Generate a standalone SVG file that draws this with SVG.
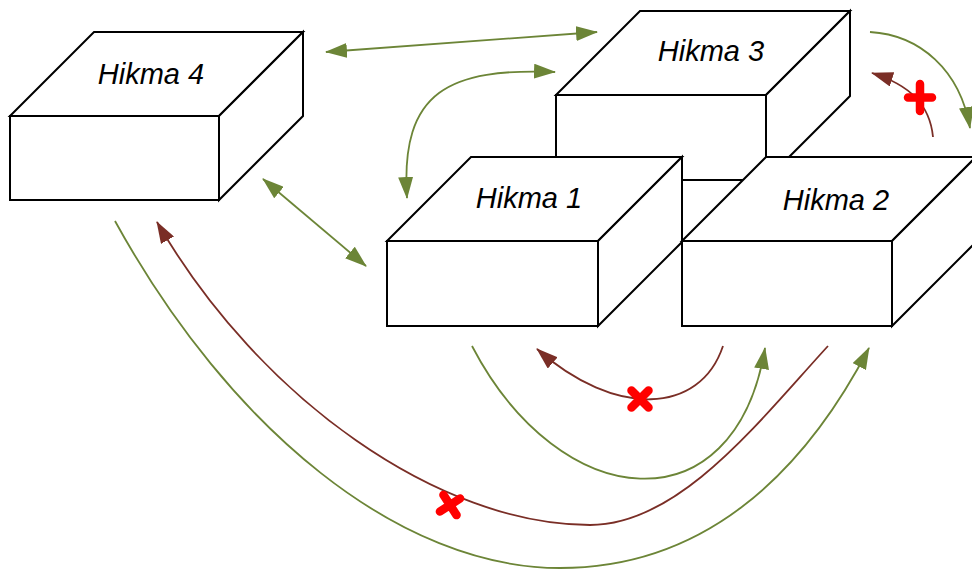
<svg xmlns="http://www.w3.org/2000/svg" width="972" height="570" viewBox="0 0 972 570">
  <style>
    .face { fill: #ffffff; stroke: #000000; stroke-width: 2; stroke-linejoin: miter; }
    .label { font-family: "Liberation Sans", Arial, sans-serif; font-style: italic; font-size: 29px; fill: #000000; text-anchor: middle; }
    .ok { fill: none; stroke: #6C8537; stroke-width: 1.8; }
    .no { fill: none; stroke: #7A2E26; stroke-width: 1.8; }
    .mark { fill: none; stroke: #FF0000; stroke-width: 8.5; stroke-linecap: round; }
  </style>
  <defs>
    <marker id="headOk" markerUnits="userSpaceOnUse" markerWidth="22" markerHeight="15" viewBox="0 0 22 15" refX="21" refY="7.5" orient="auto-start-reverse">
      <path d="M0,0 L22,7.5 L0,15 z" fill="#6C8537"/>
    </marker>
    <marker id="headNo" markerUnits="userSpaceOnUse" markerWidth="22" markerHeight="15" viewBox="0 0 22 15" refX="21" refY="7.5" orient="auto-start-reverse">
      <path d="M0,0 L22,7.5 L0,15 z" fill="#7A2E26"/>
    </marker>
  </defs>

  <!-- boxes: top face, front face, right face -->
  <g id="hikma4">
    <polygon class="face" points="10,116 94,32 303,32 219,116"/>
    <rect class="face" x="10" y="116" width="209" height="84"/>
    <polygon class="face" points="219,116 303,32 303,116 219,200"/>
    <text class="label" x="151" y="84">Hikma 4</text>
  </g>

  <g id="hikma3">
    <polygon class="face" points="556,95 640,11 850,11 766,95"/>
    <rect class="face" x="556" y="95" width="210" height="85"/>
    <polygon class="face" points="766,95 850,11 850,96 766,180"/>
    <text class="label" x="711" y="61">Hikma 3</text>
  </g>

  <g id="hikma1">
    <polygon class="face" points="387,241 471,157 682,157 598,241"/>
    <rect class="face" x="387" y="241" width="211" height="85"/>
    <polygon class="face" points="598,241 682,157 682,242 598,326"/>
    <text class="label" x="529" y="208">Hikma 1</text>
  </g>

  <g id="hikma2">
    <polygon class="face" points="682,241 766,157 976,157 892,241"/>
    <rect class="face" x="682" y="241" width="210" height="85"/>
    <polygon class="face" points="892,241 976,157 976,242 892,326"/>
    <text class="label" x="836" y="210">Hikma 2</text>
  </g>

  <g id="connectors">
    <!-- two-way links -->
    <line class="ok" x1="326" y1="52" x2="597" y2="32" marker-start="url(#headOk)" marker-end="url(#headOk)"/>
    <line class="ok" x1="263" y1="179" x2="366" y2="266" marker-start="url(#headOk)" marker-end="url(#headOk)"/>
    <path class="ok" d="M407,198 C400,90 450,68 555,72" marker-start="url(#headOk)" marker-end="url(#headOk)"/>

    <!-- Hikma 3 side -->
    <path class="ok" d="M870,32 C920,35 960,70 970,128" marker-end="url(#headOk)"/>
    <path class="no" d="M933,137 C930,105 910,85 872,73" marker-end="url(#headNo)"/>

    <!-- lower arcs -->
    <path class="no" d="M723,346 C700,415 615,418 537,349" marker-end="url(#headNo)"/>
    <path class="ok" d="M472,346 C560,515 735,530 765,348" marker-end="url(#headOk)"/>
    <path class="no" d="M828,346 C760,420 680,525 590,525 C440,525 260,400 157,222" marker-end="url(#headNo)"/>
    <path class="ok" d="M115,221 C230,430 400,568 560,568 C700,568 800,480 869,348" marker-end="url(#headOk)"/>

    <!-- blocked / allowed marks -->
    <path class="mark" d="M908,97.5 L932,97.5 M920,84 L920,111"/>
    <path class="mark" d="M631.5,390.5 L648.5,407.5 M631.5,407.5 L648.5,390.5"/>
    <path class="mark" transform="rotate(12 450 505)" d="M441.5,496.5 L458.5,513.5 M441.5,513.5 L458.5,496.5"/>
  </g>
</svg>
